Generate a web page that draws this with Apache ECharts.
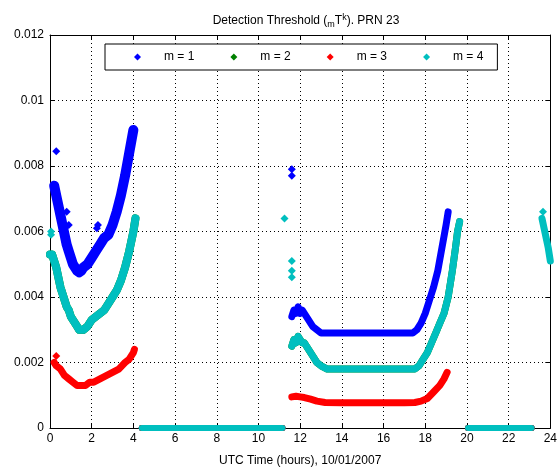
<!DOCTYPE html>
<html>
<head>
<meta charset="utf-8">
<script src="https://cdn.jsdelivr.net/npm/echarts@6/dist/echarts.min.js"></script>
<style>
	html, body { margin: 0; padding: 0; background: #fff; }
	#chart { width: 560px; height: 472px; }
</style>
</head>
<body>
<div id="chart"></div>
<script>
// tick labels
var xTicks = [0, 2, 4, 6, 8, 10, 12, 14, 16, 18, 20, 22, 24];
var yTicks = [0, 0.002, 0.004, 0.006, 0.008, 0.01, 0.012];
var legendNames = ["m = 1", "m = 2", "m = 3", "m = 4"];

// m = 1 (blue)
var m1Left = [[0.2, 0.0074], [0.3, 0.0071], [0.4, 0.0068], [0.5, 0.0065], [0.6, 0.0062], [0.7, 0.0059], [0.8, 0.0056], [0.9, 0.0054], [1.0, 0.0052], [1.1, 0.0050], [1.2, 0.0049], [1.3, 0.0048], [1.4, 0.00475], [1.5, 0.0048], [1.6, 0.0049], [1.8, 0.0050], [2.0, 0.0052], [2.2, 0.0054], [2.4, 0.0056], [2.6, 0.0058], [2.8, 0.0059], [3.0, 0.0062], [3.2, 0.0066], [3.4, 0.0071], [3.6, 0.0077], [3.8, 0.0084], [4.0, 0.0091]];
var m1Mid = [[11.6, 0.0034], [11.7, 0.0036], [11.8, 0.0035], [11.9, 0.0037], [12.0, 0.0035], [12.1, 0.0036], [12.2, 0.0035], [12.4, 0.0033], [12.6, 0.0031], [12.8, 0.0030], [13.0, 0.0029], [14, 0.0029], [15, 0.0029], [16, 0.0029], [17, 0.0029], [17.4, 0.0029], [17.6, 0.0030], [17.8, 0.0032], [18.0, 0.0035], [18.2, 0.0039], [18.4, 0.0043], [18.6, 0.0048], [18.8, 0.0055], [19.0, 0.0062], [19.1, 0.0066]];
var m1Dots = [[0.3, 0.00845], [0.8, 0.0066], [0.9, 0.0062], [2.25, 0.0061], [2.3, 0.0062], [11.6, 0.0079], [11.6, 0.0077]];

// m = 3 (red)
var m3Left = [[0.2, 0.0020], [0.3, 0.0019], [0.5, 0.0018], [0.7, 0.0016], [0.9, 0.0015], [1.1, 0.0014], [1.3, 0.0013], [1.5, 0.0013], [1.7, 0.0013], [1.9, 0.0014], [2.1, 0.0014], [2.4, 0.0015], [2.7, 0.0016], [3.0, 0.0017], [3.3, 0.0018], [3.6, 0.0020], [3.8, 0.0021], [4.0, 0.0023], [4.05, 0.0024]];
var m3Mid = [[11.6, 0.00095], [11.8, 0.00097], [12.0, 0.00095], [12.2, 0.00093], [12.5, 0.00088], [12.8, 0.00082], [13.2, 0.00078], [14, 0.00077], [15, 0.00077], [16, 0.00077], [17, 0.00077], [17.5, 0.00078], [17.8, 0.00082], [18.1, 0.0009], [18.4, 0.0011], [18.7, 0.0013], [18.9, 0.0015], [19.05, 0.0017]];
var m3Dots = [[0.3, 0.0022]];

// m = 4 (cyan)
var m4Left = [[0.0, 0.0053], [0.1, 0.0053], [0.2, 0.0051], [0.3, 0.0049], [0.4, 0.0046], [0.5, 0.0043], [0.6, 0.0041], [0.7, 0.0039], [0.8, 0.0037], [0.9, 0.0036], [1.0, 0.0034], [1.1, 0.0033], [1.2, 0.0032], [1.3, 0.0031], [1.4, 0.0030], [1.5, 0.0030], [1.6, 0.0030], [1.8, 0.0031], [2.0, 0.0033], [2.2, 0.0034], [2.4, 0.0035], [2.6, 0.0036], [2.8, 0.0038], [3.0, 0.0040], [3.2, 0.0042], [3.4, 0.0045], [3.6, 0.0049], [3.8, 0.0054], [4.0, 0.0060], [4.1, 0.0064]];
var m4Mid = [[11.6, 0.0025], [11.7, 0.0027], [11.8, 0.0026], [11.9, 0.0028], [12.0, 0.0027], [12.1, 0.0026], [12.2, 0.0026], [12.4, 0.0024], [12.6, 0.0022], [12.8, 0.0020], [13.0, 0.0019], [13.3, 0.0018], [14, 0.0018], [15, 0.0018], [16, 0.0018], [17, 0.0018], [17.5, 0.0018], [17.7, 0.0019], [17.9, 0.0021], [18.1, 0.0023], [18.3, 0.0026], [18.5, 0.0029], [18.7, 0.0032], [18.9, 0.0035], [19.1, 0.0040], [19.3, 0.0048], [19.45, 0.0055], [19.55, 0.0060], [19.65, 0.0063]];
var m4Right = [[23.6, 0.0064], [23.7, 0.0061], [23.8, 0.0058], [23.9, 0.0055], [24.0, 0.0051]];
var m4Dots = [[0.05, 0.0059], [0.05, 0.0060], [11.25, 0.0064], [11.6, 0.0051], [11.6, 0.0048], [11.6, 0.0046], [23.65, 0.0066]];

// m = 2 (green) lies under m = 4
var m2Left = m4Left;
var m2Mid = m4Mid;

// all series drop to zero here
var zeroRunA = [[4.4, 0], [11.15, 0]];
var zeroRunB = [[20.05, 0], [23.1, 0]];

var colors = ["#0000ff", "#008000", "#ff0000", "#00bfbf"];
var fontName = "Liberation Sans, Arial, sans-serif";

function band(name, color, data, width) {
	return {
		name: name,
		type: "line",
		data: data,
		showSymbol: false,
		symbol: "diamond",
		itemStyle: { color: color },
		lineStyle: { color: color, width: width || 7, cap: "round", join: "round" },
		silent: true
	};
}
function dots(name, color, data) {
	return {
		name: name,
		type: "scatter",
		data: data,
		symbol: "diamond",
		symbolSize: 8,
		itemStyle: { color: color, opacity: 1 },
		silent: true
	};
}

var series = [];
// m = 1
series.push(band(legendNames[0], colors[0], m1Left, 10));
series.push(band(legendNames[0], colors[0], m1Mid));
series.push(band(legendNames[0], colors[0], zeroRunA, 6));
series.push(band(legendNames[0], colors[0], zeroRunB, 6));
series.push(dots(legendNames[0], colors[0], m1Dots));
// m = 2
series.push(band(legendNames[1], colors[1], m2Left, 8));
series.push(band(legendNames[1], colors[1], m2Mid));
series.push(band(legendNames[1], colors[1], zeroRunA, 6));
series.push(band(legendNames[1], colors[1], zeroRunB, 6));
// m = 3
series.push(band(legendNames[2], colors[2], m3Left, 7));
series.push(band(legendNames[2], colors[2], m3Mid));
series.push(band(legendNames[2], colors[2], zeroRunA, 6));
series.push(band(legendNames[2], colors[2], zeroRunB, 6));
series.push(dots(legendNames[2], colors[2], m3Dots));
// m = 4
series.push(band(legendNames[3], colors[3], m4Left, 8));
series.push(band(legendNames[3], colors[3], m4Mid));
series.push(band(legendNames[3], colors[3], m4Right));
series.push(band(legendNames[3], colors[3], zeroRunA, 6));
series.push(band(legendNames[3], colors[3], zeroRunB, 6));
series.push(dots(legendNames[3], colors[3], m4Dots));

var axisCommon = {
	min: 0,
	axisLine: { show: true, onZero: false, lineStyle: { color: "#000", width: 1 } },
	axisTick: { show: true, inside: true, length: 5, lineStyle: { color: "#000" } }
};

var option = {
	animation: false,
	backgroundColor: "#fff",
	textStyle: { fontFamily: fontName },
	title: {
		text: "{a|Detection Threshold (}{sub|m}{a|T}{sup|k}{a|). PRN 23}",
		left: 301,
		top: 8,
		textAlign: "center",
		textStyle: {
			fontWeight: "normal",
			rich: {
				a: { fontSize: 12, fontWeight: "normal", color: "#000", fontFamily: fontName, lineHeight: 16 },
				sub: { fontSize: 9, fontWeight: "normal", color: "#000", fontFamily: fontName, padding: [8, 0, 0, 0], lineHeight: 16 },
				sup: { fontSize: 9, fontWeight: "normal", color: "#000", fontFamily: fontName, padding: [0, 0, 7, 0], lineHeight: 16 }
			}
		}
	},
	legend: {
		left: 105,
		top: 44,
		padding: [7, 14, 7, 29],
		itemGap: 36,
		itemWidth: 7,
		itemHeight: 7,
		icon: "diamond",
		borderColor: "#000",
		borderWidth: 1,
		backgroundColor: "#fff",
		z: 10,
		textStyle: { fontSize: 12, color: "#000", fontFamily: fontName, padding: [0, 0, 0, 18] },
		data: legendNames
	},
	grid: { left: 50, right: 8, top: 35, bottom: 41 },
	xAxis: [
		Object.assign({}, axisCommon, {
			type: "value",
			max: 24,
			interval: 2,
			name: "UTC Time (hours), 10/01/2007",
			nameLocation: "middle",
			nameGap: 27,
			nameTextStyle: { fontSize: 12, color: "#000", fontFamily: fontName },
			axisLabel: { color: "#000", fontSize: 12, margin: 5, fontFamily: fontName },
			splitLine: { show: true, lineStyle: { color: "#000", type: [1, 3], width: 1 } }
		}),
		Object.assign({}, axisCommon, {
			type: "value",
			position: "top",
			max: 24,
			interval: 2,
			axisLabel: { show: false },
			splitLine: { show: false }
		})
	],
	yAxis: [
		Object.assign({}, axisCommon, {
			type: "value",
			max: 0.012,
			interval: 0.002,
			axisLabel: { color: "#000", fontSize: 12, margin: 6, fontFamily: fontName },
			splitLine: { show: true, lineStyle: { color: "#000", type: [1, 3], width: 1 } }
		}),
		Object.assign({}, axisCommon, {
			type: "value",
			position: "right",
			max: 0.012,
			interval: 0.002,
			axisLabel: { show: false },
			splitLine: { show: false }
		})
	],
	series: series
};

var myChart = echarts.init(document.getElementById("chart"));
myChart.setOption(option);
</script>
</body>
</html>
